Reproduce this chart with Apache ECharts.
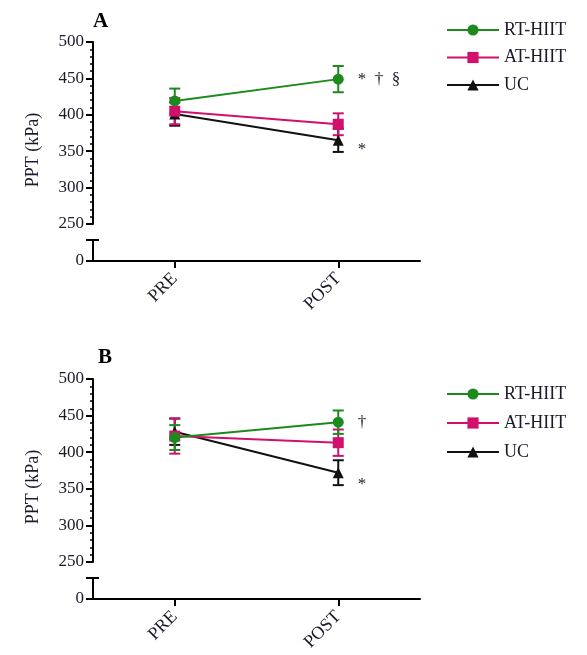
<!DOCTYPE html>
<html>
<head>
<meta charset="utf-8">
<script src="https://cdn.jsdelivr.net/npm/echarts@6/dist/echarts.min.js"></script>
<style>
  html, body { margin: 0; padding: 0; background: #fff; }
  #main { width: 587px; height: 655px; }
</style>
</head>
<body>
<div id="main"></div>
<script>
var times = ['PRE', 'POST'];
var groups = ['RT-HIIT', 'AT-HIIT', 'UC'];

// panel A: means and SD
var meanA_rt = [419, 449];
var sdA_rt = [17, 18];
var meanA_at = [405, 387];
var sdA_at = [18, 15];
var meanA_uc = [401, 365];
var sdA_uc = [16, 16];
var notesA_rt = ['', '*  \u2020  \u00a7'];
var notesA_uc = ['', '*'];

// panel B: means and SD
var meanB_rt = [420, 441];
var sdB_rt = [17, 16];
var meanB_at = [422, 413];
var sdB_at = [24, 18];
var meanB_uc = [428, 372];
var sdB_uc = [18, 17];
var notesB_rt = ['', '\u2020'];
var notesB_uc = ['', '*'];

var yTicks = [250, 300, 350, 400, 450, 500];

var colors = { 'RT-HIIT': '#1d8a1d', 'AT-HIIT': '#d0106c', 'UC': '#111111' };
var symbols = { 'RT-HIIT': 'circle', 'AT-HIIT': 'rect', 'UC': 'triangle' };
var font = 'Liberation Serif';
var textColor = '#1a1a2a';

var myChart = echarts.init(document.getElementById('main'));

function errorSeries(name, means, sds, xi, yi) {
    return {
        name: name + ' SD',
        type: 'custom',
        xAxisIndex: xi,
        yAxisIndex: yi,
        z: 3,
        silent: true,
        data: means.map(function (m, i) { return [i, m - sds[i], m + sds[i]]; }),
        renderItem: function (params, api) {
            var lo = api.coord([api.value(0), api.value(1)]);
            var hi = api.coord([api.value(0), api.value(2)]);
            var w = 5.5;
            var st = { stroke: colors[name], lineWidth: 2 };
            return {
                type: 'group',
                children: [
                    { type: 'line', shape: { x1: lo[0], y1: lo[1], x2: hi[0], y2: hi[1] }, style: st },
                    { type: 'line', shape: { x1: lo[0] - w, y1: lo[1], x2: lo[0] + w, y2: lo[1] }, style: st },
                    { type: 'line', shape: { x1: hi[0] - w, y1: hi[1], x2: hi[0] + w, y2: hi[1] }, style: st }
                ]
            };
        }
    };
}

function lineSeries(name, means, notes, xi, yi, labelOffset) {
    return {
        name: name,
        type: 'line',
        xAxisIndex: xi,
        yAxisIndex: yi,
        z: 4,
        symbol: symbols[name],
        symbolSize: 11,
        color: colors[name],
        lineStyle: { width: 2, color: colors[name] },
        itemStyle: { color: colors[name] },
        data: means.map(function (m, i) {
            var item = { value: m };
            if (notes && notes[i]) {
                item.label = {
                    show: true,
                    position: 'right',
                    distance: 14,
                    offset: labelOffset || [0, 0],
                    formatter: notes[i],
                    fontFamily: font,
                    fontSize: 17,
                    color: textColor
                };
            }
            return item;
        })
    };
}

function upperY(gi) {
    return {
        type: 'value', gridIndex: gi, min: 250, max: 500, interval: 50,
        axisLine: { show: true, lineStyle: { color: '#000', width: 2 } },
        axisTick: { show: true, length: 7, lineStyle: { width: 2 } },
        minorTick: { show: true, splitNumber: 5, length: 3, lineStyle: { color: '#000', width: 1.5 } },
        splitLine: { show: false },
        axisLabel: { fontFamily: font, fontSize: 17, color: textColor, margin: 9,
            formatter: function (v) { return yTicks.indexOf(v) >= 0 ? String(v) : ''; } }
    };
}

function lowerY(gi) {
    return {
        type: 'value', gridIndex: gi, min: 0, max: 30, interval: 30,
        axisLine: { show: true, lineStyle: { color: '#000', width: 2 } },
        axisTick: { show: true, length: 7, lineStyle: { width: 2 } },
        splitLine: { show: false },
        axisLabel: { fontFamily: font, fontSize: 17, color: textColor, margin: 9,
            formatter: function (v) { return v === 0 ? '0' : ''; } }
    };
}

function capY(gi) {
    return {
        type: 'value', gridIndex: gi, min: 0, max: 30, interval: 30, position: 'left',
        axisLine: { show: false },
        axisTick: { show: true, inside: true, length: 6, lineStyle: { color: '#000', width: 2 } },
        splitLine: { show: false },
        axisLabel: { show: false }
    };
}

function hiddenX(gi) {
    return { type: 'category', gridIndex: gi, data: times, show: false };
}

function shownX(gi) {
    return {
        type: 'category', gridIndex: gi, data: times,
        axisLine: { show: true, lineStyle: { color: '#000', width: 2 } },
        axisTick: { show: true, alignWithLabel: true, length: 7, lineStyle: { width: 2 } },
        axisLabel: { rotate: 45, fontFamily: font, fontSize: 18, color: textColor, margin: 15 }
    };
}

function legendAt(top, gap) {
    return {
        orient: 'vertical', left: 441, top: top,
        data: groups,
        itemWidth: 52, itemHeight: 14, itemGap: gap,
        textStyle: { fontFamily: font, fontSize: 18, color: textColor, padding: [0, 0, 0, 0] },
        selectedMode: false
    };
}

var option = {
    backgroundColor: '#fff',
    animation: false,
    title: [
        { text: 'A', left: 88, top: 6, textStyle: { fontFamily: font, fontSize: 21, fontWeight: 'bold', color: '#000' } },
        { text: 'B', left: 93, top: 342, textStyle: { fontFamily: font, fontSize: 21, fontWeight: 'bold', color: '#000' } }
    ],
    legend: [legendAt(16, 9.5), legendAt(380, 11)],
    grid: [
        { left: 93, top: 42, width: 327, height: 182 },
        { left: 93, top: 240, width: 327, height: 21 },
        { left: 93, top: 379, width: 327, height: 183 },
        { left: 93, top: 578, width: 327, height: 21 }
    ],
    xAxis: [hiddenX(0), shownX(1), hiddenX(2), shownX(3)],
    yAxis: [upperY(0), lowerY(1), capY(1), upperY(2), lowerY(3), capY(3)],
    graphic: [
        { type: 'text', x: 33, y: 150, rotation: Math.PI / 2,
          style: { text: 'PPT (kPa)', fontFamily: font, fontSize: 18, fill: textColor, align: 'center', verticalAlign: 'middle' } },
        { type: 'text', x: 33, y: 487, rotation: Math.PI / 2,
          style: { text: 'PPT (kPa)', fontFamily: font, fontSize: 18, fill: textColor, align: 'center', verticalAlign: 'middle' } }
    ],
    series: [
        errorSeries('UC', meanA_uc, sdA_uc, 0, 0),
        lineSeries('UC', meanA_uc, notesA_uc, 0, 0, [0, 9]),
        errorSeries('AT-HIIT', meanA_at, sdA_at, 0, 0),
        lineSeries('AT-HIIT', meanA_at, null, 0, 0),
        errorSeries('RT-HIIT', meanA_rt, sdA_rt, 0, 0),
        lineSeries('RT-HIIT', meanA_rt, notesA_rt, 0, 0),

        errorSeries('UC', meanB_uc, sdB_uc, 2, 3),
        lineSeries('UC', meanB_uc, notesB_uc, 2, 3, [0, 12]),
        errorSeries('AT-HIIT', meanB_at, sdB_at, 2, 3),
        lineSeries('AT-HIIT', meanB_at, null, 2, 3),
        errorSeries('RT-HIIT', meanB_rt, sdB_rt, 2, 3),
        lineSeries('RT-HIIT', meanB_rt, notesB_rt, 2, 3)
    ]
};
myChart.setOption(option);
</script>
</body>
</html>
